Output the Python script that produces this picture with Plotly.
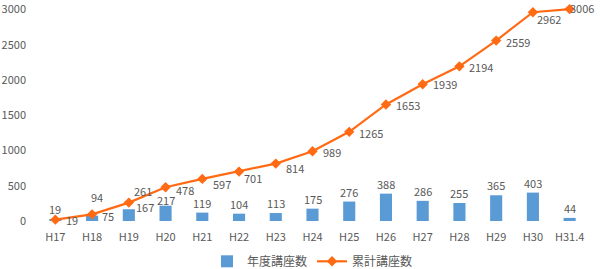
import plotly.graph_objects as go

categories = ["H17", "H18", "H19", "H20", "H21", "H22", "H23", "H24", "H25", "H26",
              "H27", "H28", "H29", "H30", "H31.4"]
annual = [19, 75, 167, 217, 119, 104, 113, 175, 276, 388, 286, 255, 365, 403, 44]
cumulative = [19, 94, 261, 478, 597, 701, 814, 989, 1265, 1653, 1939, 2194, 2559, 2962, 3006]

bar_color = "#5B9BD5"
line_color = "#FF6A13"
txt_color = "#595959"
font_family = "Noto Sans CJK JP, Noto Sans, sans-serif"

# label offsets (pixels) — styling only
line_dx = [0, 5, 14, 19, 20, 14, 19, 19, 22, 22, 22, 22, 22, 16, 12]
line_dy = [11, 17, 12, -3, -5, -6, -4, -1, -1, -1, 0, -1, -1, -7, 1]
bar_dx = [17, 16, 16] + [0] * 12
bar_dy = [0, 0, 2, 6] + [10] * 11

fig = go.Figure()
fig.add_trace(go.Bar(
    x=categories, y=annual, name="年度講座数",
    marker=dict(color=bar_color, line=dict(width=0)),
    width=0.33,
))
fig.add_trace(go.Scatter(
    x=categories, y=cumulative, name="累計講座数",
    mode="lines+markers",
    line=dict(color=line_color, width=2.2),
    marker=dict(symbol="diamond", size=8, color=line_color),
    cliponaxis=False,
))

annotations = []
for i, c in enumerate(categories):
    annotations.append(dict(
        x=c, y=annual[i], xref="x", yref="y", text=str(annual[i]), showarrow=False,
        xanchor="center", yanchor="middle", xshift=bar_dx[i], yshift=bar_dy[i],
        font=dict(size=11, color=txt_color, family=font_family)))
    annotations.append(dict(
        x=c, y=cumulative[i], xref="x", yref="y", text=str(cumulative[i]), showarrow=False,
        xanchor="center", yanchor="middle", xshift=line_dx[i], yshift=line_dy[i],
        font=dict(size=11, color=txt_color, family=font_family)))

fig.update_layout(
    width=600, height=269,
    margin=dict(l=37, r=12, t=6, b=48, autoexpand=False),
    paper_bgcolor="white", plot_bgcolor="white",
    font=dict(family=font_family, size=11, color=txt_color),
    showlegend=True,
    legend=dict(orientation="h", x=0.5, xanchor="center", y=-0.12, yanchor="top",
                font=dict(size=12, color=txt_color), traceorder="normal",
                itemwidth=30),
    bargap=0.5,
    annotations=annotations,
)
fig.update_xaxes(range=[-0.5, len(categories) - 0.5], showgrid=False, showline=False,
                 ticks="", automargin=False,
                 tickfont=dict(size=11, color=txt_color), ticklabelstandoff=8)
fig.update_yaxes(range=[0, 3050], tickvals=[0, 500, 1000, 1500, 2000, 2500, 3000],
                 showgrid=False, zeroline=False, showline=False,
                 ticks="", automargin=False,
                 tickfont=dict(size=11, color=txt_color), ticklabelstandoff=10)

fig.write_html("out.html")
